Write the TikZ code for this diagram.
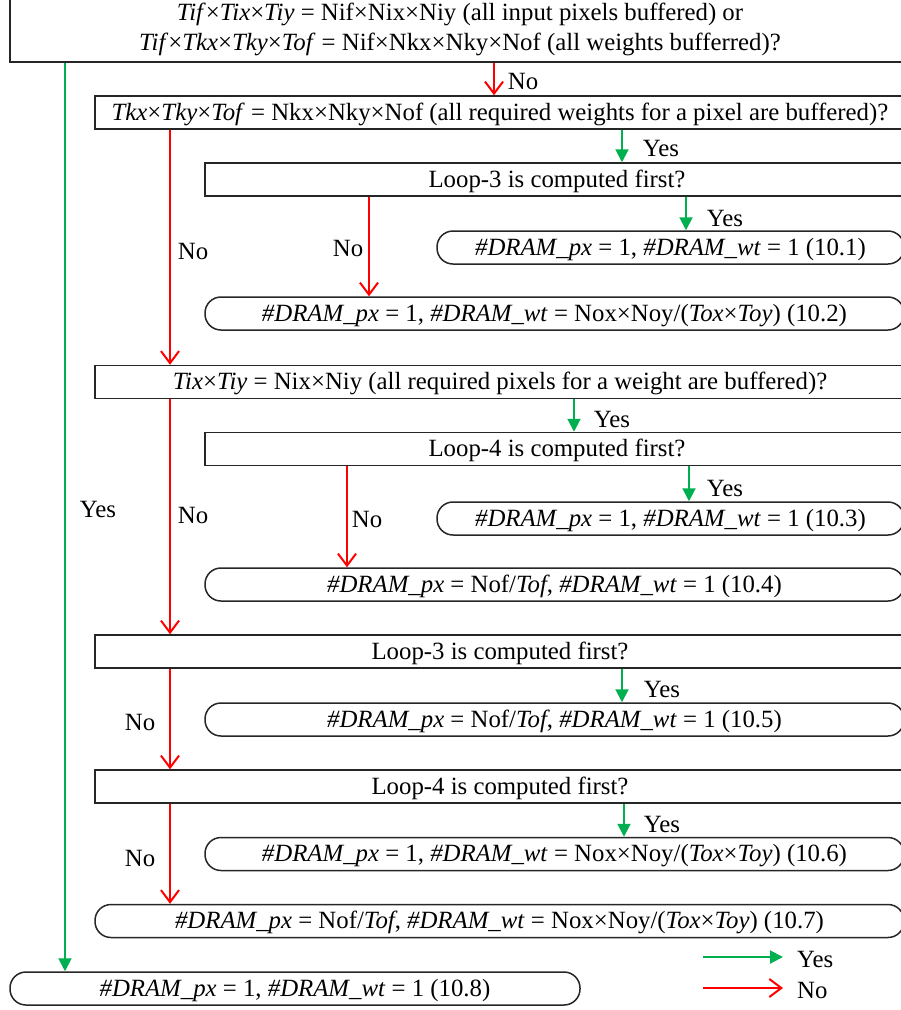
\documentclass[tikz,border=0pt]{standalone}
\usepackage{fontspec}
\setmainfont{Liberation Serif}
\usetikzlibrary{arrows.meta}
\definecolor{yesgreen}{RGB}{0,176,80}
\definecolor{nored}{RGB}{255,0,0}
\begin{document}
\begin{tikzpicture}[x=1pt,y=-1pt,
  font=\fontsize{24.8}{30}\selectfont,
  frame/.style={draw=black!85, line width=1.5pt, inner sep=0pt},
  qbox/.style={frame, minimum height=33pt, text height=17.5pt, text depth=2.5pt},
  rbox/.style={qbox, rounded corners=16pt},
  lbl/.style={inner sep=0pt},
  yesarrow/.style={draw=yesgreen, line width=2pt, -{Triangle[length=13pt,width=13pt]}},
  noarrow/.style={draw=nored, line width=2pt, -{Straight Barb[length=12pt,width=18pt,line width=2pt]}}]
\useasboundingbox (0,0) rectangle (901,1010);

% decision boxes
\node[frame, minimum width=900pt, minimum height=66pt, align=center] (top) at (460,29)
  {\textit{Tif}×\textit{Tix}×\textit{Tiy} = Nif×Nix×Niy (all input pixels buffered) or\\
   \textit{Tif}×\textit{Tkx}×\textit{Tky}×\textit{Tof} = Nif×Nkx×Nky×Nof (all weights bufferred)?};
\node[qbox, minimum width=810pt] (q1) at (500,112.5)
  {\textit{Tkx}×\textit{Tky}×\textit{Tof} = Nkx×Nky×Nof (all required weights for a pixel are buffered)?};
\node[qbox, minimum width=704pt] (q2) at (557,179.5) {Loop-3 is computed first?};
\node[qbox, minimum width=810pt] (q3) at (500,382)
  {\textit{Tix}×\textit{Tiy} = Nix×Niy (all required pixels for a weight are buffered)?};
\node[qbox, minimum width=704pt] (q4) at (557,449) {Loop-4 is computed first?};
\node[qbox, minimum width=810pt] (q5) at (500,651.5) {Loop-3 is computed first?};
\node[qbox, minimum width=810pt] (q6) at (500,786.5) {Loop-4 is computed first?};

% result boxes
\node[rbox, minimum width=467pt] (r1) at (670.5,247.5)
  {\textit{\#DRAM\_px} = 1, \textit{\#DRAM\_wt} = 1 (10.1)};
\node[rbox, minimum width=699pt] (r2) at (554.5,313.5)
  {\textit{\#DRAM\_px} = 1, \textit{\#DRAM\_wt} = Nox×Noy/(\textit{Tox}×\textit{Toy}) (10.2)};
\node[rbox, minimum width=467pt] (r3) at (670.5,518.5)
  {\textit{\#DRAM\_px} = 1, \textit{\#DRAM\_wt} = 1 (10.3)};
\node[rbox, minimum width=699pt] (r4) at (554.5,584.5)
  {\textit{\#DRAM\_px} = Nof/\textit{Tof}, \textit{\#DRAM\_wt} = 1 (10.4)};
\node[rbox, minimum width=699pt] (r5) at (554.5,719.5)
  {\textit{\#DRAM\_px} = Nof/\textit{Tof}, \textit{\#DRAM\_wt} = 1 (10.5)};
\node[rbox, minimum width=699pt] (r6) at (554.5,854)
  {\textit{\#DRAM\_px} = 1, \textit{\#DRAM\_wt} = Nox×Noy/(\textit{Tox}×\textit{Toy}) (10.6)};
\node[rbox, minimum width=809pt] (r7) at (499.5,921)
  {\textit{\#DRAM\_px} = Nof/\textit{Tof}, \textit{\#DRAM\_wt} = Nox×Noy/(\textit{Tox}×\textit{Toy}) (10.7)};
\node[rbox, minimum width=570pt] (r8) at (295,988.5)
  {\textit{\#DRAM\_px} = 1, \textit{\#DRAM\_wt} = 1 (10.8)};

% columns of the connectors
\coordinate (cA) at (65,0);
\coordinate (cB) at (170,0);
\coordinate (cC) at (494,0);
\coordinate (cD) at (622,0);
\coordinate (cE) at (686,0);
\coordinate (cF) at (369,0);
\coordinate (cG) at (574,0);
\coordinate (cH) at (689,0);
\coordinate (cI) at (347,0);
\coordinate (cJ) at (624,0);

% connectors
\draw[yesarrow] (top.south -| cA) -- (r8.north -| cA);
\draw[noarrow]  (top.south -| cC) -- (q1.north -| cC);
\draw[yesarrow] (q1.south -| cD) -- (q2.north -| cD);
\draw[noarrow]  (q1.south -| cB) -- (q3.north -| cB);
\draw[yesarrow] (q2.south -| cE) -- (r1.north -| cE);
\draw[noarrow]  (q2.south -| cF) -- (r2.north -| cF);
\draw[yesarrow] (q3.south -| cG) -- (q4.north -| cG);
\draw[noarrow]  (q3.south -| cB) -- (q5.north -| cB);
\draw[yesarrow] (q4.south -| cH) -- (r3.north -| cH);
\draw[noarrow]  (q4.south -| cI) -- (r4.north -| cI);
\draw[yesarrow] (q5.south -| cD) -- (r5.north -| cD);
\draw[noarrow]  (q5.south -| cB) -- (q6.north -| cB);
\draw[yesarrow] (q6.south -| cJ) -- (r6.north -| cJ);
\draw[noarrow]  (q6.south -| cB) -- (r7.north -| cB);

% connector labels
\node[lbl] (l0) at (523,81) {No};
\node[lbl] (l1) at (661,148) {Yes};
\node[lbl] (l2) at (193,251) {No};
\node[lbl] (l3) at (725,218) {Yes};
\node[lbl] (l4) at (348,248) {No};
\node[lbl] (l5) at (612,419) {Yes};
\node[lbl] (l6) at (193,515) {No};
\node[lbl] (l7) at (98,509) {Yes};
\node[lbl] (l8) at (725,488) {Yes};
\node[lbl] (l9) at (367,519) {No};
\node[lbl] (l10) at (662,689) {Yes};
\node[lbl] (l11) at (140,722) {No};
\node[lbl] (l12) at (662,824) {Yes};
\node[lbl] (l13) at (140,858) {No};

% legend
\node[lbl, anchor=west] (legyes) at (797,959) {Yes};
\node[lbl, anchor=west] (legno) at (797,990) {No};
\coordinate (gy) at (703,957);
\coordinate (gn) at (703,988);
\draw[yesarrow] (gy) -- ([xshift=-14pt]legyes.west |- gy);
\draw[noarrow]  (gn) -- ([xshift=-14pt]legno.west |- gn);
\end{tikzpicture}
\end{document}
